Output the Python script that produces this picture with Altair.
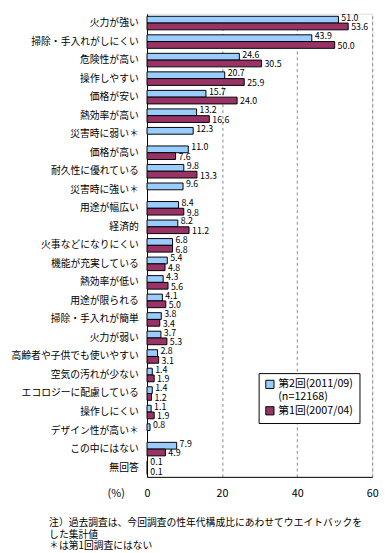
import altair as alt
import pandas as pd

categories = [
    "火力が強い", "掃除・手入れがしにくい", "危険性が高い", "操作しやすい", "価格が安い",
    "熱効率が高い", "災害時に弱い＊", "価格が高い", "耐久性に優れている", "災害時に強い＊",
    "用途が幅広い", "経済的", "火事などになりにくい", "機能が充実している", "熱効率が低い",
    "用途が限られる", "掃除・手入れが簡単", "火力が弱い", "高齢者や子供でも使いやすい",
    "空気の汚れが少ない", "エコロジーに配慮している", "操作しにくい", "デザイン性が高い＊",
    "この中にはない", "無回答",
]
wave2 = [51.0, 43.9, 24.6, 20.7, 15.7, 13.2, 12.3, 11.0, 9.8, 9.6, 8.4, 8.2, 6.8, 5.4, 4.3,
         4.1, 3.8, 3.7, 2.8, 1.4, 1.4, 1.1, 0.8, 7.9, 0.1]
wave1 = [53.6, 50.0, 30.5, 25.9, 24.0, 16.6, None, 7.6, 13.3, None, 9.8, 11.2, 6.8, 4.8, 5.6,
         5.0, 3.4, 5.3, 3.1, 1.9, 1.2, 1.9, None, 4.9, 0.1]
s2 = "第2回(2011/09)"
s1 = "第1回(2007/04)"
series = [s2, s1]
colors = ["#99CCFF", "#993366"]

rows = []
for c, a, b in zip(categories, wave2, wave1):
    rows.append({"item": c, "series": s2, "value": a})
    if b is not None:
        rows.append({"item": c, "series": s1, "value": b})
df = pd.DataFrame(rows)

JP = "Noto Sans CJK JP"

y_enc = alt.Y("item:N", sort=categories,
              scale=alt.Scale(paddingInner=0.27, paddingOuter=0.135),
              axis=alt.Axis(title=None, labelFont=JP, labelFontSize=10, labelColor="black",
                            labelPadding=9, ticks=False, domainColor="black", labelLimit=200))
yoff = alt.YOffset("series:N", sort=series, scale=alt.Scale(domain=series, paddingInner=0))
x_enc = alt.X("value:Q", scale=alt.Scale(domain=[0, 60], nice=False),
              axis=alt.Axis(values=[0, 20, 40, 60], title="(%)", titleFont=JP, titleFontSize=11,
                            titleFontWeight="normal", titleX=-32, titleY=17, titleAlign="center",
                            titleBaseline="middle", titleAngle=0, titleColor="black",
                            labelFont=JP, labelFontSize=11, labelColor="black", ticks=False,
                            labelPadding=11, grid=True, gridDash=[3, 3], gridColor="#888888",
                            domainColor="black", labelFlush=False))

bars = alt.Chart(df).mark_bar(stroke="black", strokeWidth=1).encode(
    y=y_enc, yOffset=yoff, x=x_enc,
    color=alt.Color("series:N", sort=series,
                    scale=alt.Scale(domain=series, range=colors),
                    legend=alt.Legend(
                        title=None, orient="none", legendX=114, legendY=367,
                        strokeColor="black", fillColor="white", padding=6,
                        symbolType="square", symbolSize=70, symbolStrokeColor="black",
                        symbolStrokeWidth=1, labelFont=JP, labelFontSize=11, labelColor="black",
                        rowPadding=2, labelOffset=3,
                        labelExpr="datum.label == '第2回(2011/09)' ? ['第2回(2011/09)', '(n=12168)'] : datum.label",
                    )),
)

txt2 = alt.Chart(df).transform_filter(alt.datum.series == s2).mark_text(
    align="left", baseline="middle", dx=3, dy=-2, font=JP, fontSize=9, color="black"
).encode(y=alt.Y("item:N", sort=categories), yOffset=yoff, x="value:Q",
         text=alt.Text("value:Q", format=".1f"))

txt1 = alt.Chart(df).transform_filter(alt.datum.series == s1).mark_text(
    align="left", baseline="middle", dx=3, dy=1, font=JP, fontSize=9, color="black"
).encode(y=alt.Y("item:N", sort=categories), yOffset=yoff, x="value:Q",
         text=alt.Text("value:Q", format=".1f"))

chart = alt.layer(bars, txt2, txt1).properties(
    width=230, height=473,
    autosize="none",
    padding={"left": 142, "top": 0, "right": 10, "bottom": 80},
    title=alt.TitleParams(
        text=["注）過去調査は、今回調査の性年代構成比にあわせてウエイトバックを",
              "した集計値", "＊は第1回調査にはない"],
        orient="bottom", anchor="start", dx=-100, dy=2, offset=18, font=JP, fontSize=10,
        fontWeight="normal", lineHeight=12, color="black", frame="group",
    ),
).configure_view(stroke="black", strokeWidth=1).configure(background="white")

chart.save("out.html", embed_options={"renderer": "svg", "actions": False})
